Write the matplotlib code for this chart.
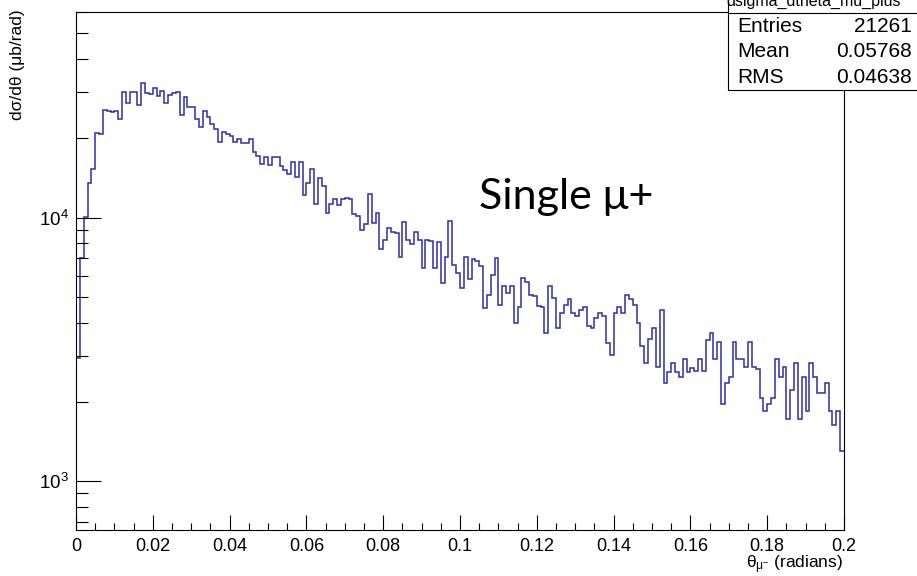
import matplotlib

matplotlib.use("Agg")
import matplotlib.pyplot as plt
import numpy as np
from matplotlib.lines import Line2D
from matplotlib.patches import Rectangle
from matplotlib.ticker import (
    FuncFormatter,
    LogLocator,
    MultipleLocator,
    NullFormatter,
)

# histogram dsigma_dtheta_mu_plus, 200 bins over 0 - 0.2 rad
theta_min = 0.0
theta_max = 0.2
n_bins = 200

dsigma_values = [
    2940, 7050, 10080, 13490, 15240, 20870, 20750, 25580, 25420, 25200,
    25290, 23650, 29850, 27120, 29850, 30010, 26720, 32460, 29590, 29340,
    30910, 28900, 30270, 27120, 29160, 29750, 30010, 24490, 28730, 26330,
    26190, 23650, 22110, 25420, 24130, 22640, 21610, 19400, 21170, 20700,
    20440, 19400, 19860, 19130, 19130, 19860, 17770, 17170, 15970, 16930,
    15830, 16930, 17020, 15690, 15190, 14630, 16200, 14290, 16200, 12150,
    13490, 15240, 11230, 14160, 13170, 10440, 11260, 11730, 11160, 11760,
    11840, 11730, 10320, 10170, 8970, 9430, 12250, 9510, 10380, 7580,
    8230, 9110, 8840, 8760, 7110, 9620, 8230, 7940, 8840, 8230,
    6430, 8230, 8170, 6430, 8100, 5630, 7110, 9730, 6610, 6150,
    5400, 7110, 5850, 6950, 6870, 6550, 4530, 5090, 6060, 7010,
    4660, 5500, 5160, 5500, 4000, 4600, 5890, 5710, 5090, 5050,
    4620, 4570, 3660, 5520, 4970, 3810, 4340, 4660, 4900, 4340,
    4240, 4460, 4570, 3880, 3810, 4150, 4340, 4240, 3360, 3010,
    4360, 4570, 4340, 5090, 4900, 4660, 4000, 3260, 2800, 3460,
    3810, 2710, 4460, 2370, 2600, 2800, 2600, 2490, 2910, 2600,
    2680, 2630, 2910, 2620, 3440, 3660, 2910, 3370, 1960, 2370,
    2490, 3370, 2910, 2910, 2710, 3370, 2710, 2660, 2070, 1850,
    1960, 2070, 2910, 2490, 2710, 1730, 2220, 2820, 1730, 2490,
    1850, 2820, 2490, 2160, 2160, 2370, 1850, 1640, 1850, 1300,
]

stat_names = ["Entries", "Mean", "RMS"]
stat_values = ["21261", "0.05768", "0.04638"]
hist_name = "dsigma_dtheta_mu_plus"
annotation = "Single \u03bc+"

W, H = 917, 576


def fx(px):
    return px / W


def fy(py):
    return 1 - py / H


plt.rcParams["font.family"] = ["Liberation Sans", "DejaVu Sans"]
plt.rcParams["mathtext.fontset"] = "custom"
plt.rcParams["mathtext.rm"] = "Liberation Sans"
plt.rcParams["mathtext.it"] = "Liberation Sans:italic"

fig = plt.figure(figsize=(W / 100, H / 100), dpi=100)
ax = fig.add_axes([fx(76), fy(530), fx(844) - fx(76), fy(12) - fy(530)])

edges = np.linspace(theta_min, theta_max, n_bins + 1)
ax.stairs(dsigma_values, edges, color="#2e2eb0", lw=1.1, baseline=None)

ax.set_yscale("log")
ax.set_xlim(theta_min, theta_max)
ax.set_ylim(654, 60200)

ax.xaxis.set_major_locator(MultipleLocator(0.02))
ax.xaxis.set_minor_locator(MultipleLocator(0.005))
ax.xaxis.set_major_formatter(
    FuncFormatter(lambda v, p: f"{v:.2f}".rstrip("0").rstrip("."))
)
ax.yaxis.set_major_locator(LogLocator(base=10, numticks=10))
ax.yaxis.set_minor_locator(LogLocator(base=10, subs=np.arange(2, 10), numticks=20))
ax.yaxis.set_minor_formatter(NullFormatter())

ax.tick_params(which="both", direction="in", top=False, right=False, width=0.8)
ax.tick_params(axis="x", which="major", length=11, pad=5.5, labelsize=13)
ax.tick_params(axis="x", which="minor", length=5.2)
ax.tick_params(axis="y", which="major", length=18, pad=5, labelsize=13.5)
ax.tick_params(axis="y", which="minor", length=8.6)
for s in ax.spines.values():
    s.set_linewidth(0.8)

fig.text(fx(18), fy(9), "d\u03c3/d\u03b8 (\u03bcb/rad)", rotation=90,
         ha="center", va="top", fontsize=12.5)
fig.text(fx(843), fy(568), r"$\mathrm{\theta_{\mu^{-}}}$ (radians)",
         ha="right", va="baseline", fontsize=12.5)

fig.text(fx(479), fy(209), annotation, ha="left", va="baseline",
         fontsize=31, family=["Lato", "DejaVu Sans"])

# stats box, ROOT style, sticking out of the top right corner
fig.add_artist(Rectangle((fx(728), fy(90)), 0.4, 0.4, transform=fig.transFigure,
                         fc="white", ec="black", lw=0.8, zorder=5))
fig.add_artist(Line2D([fx(728), 1.0], [fy(13), fy(13)], transform=fig.transFigure,
                      color="black", lw=0.8, zorder=6))
fig.text(fx(814), fy(6), hist_name, ha="center", va="baseline", fontsize=11.5,
         zorder=7)
for i, (name, val) in enumerate(zip(stat_names, stat_values)):
    y = fy(26 + 25.7 * i)
    fig.text(fx(737), y, name, ha="left", va="center", fontsize=15, zorder=7)
    fig.text(fx(912), y, val, ha="right", va="center", fontsize=15, zorder=7)

fig.savefig("out.png", dpi=100)
